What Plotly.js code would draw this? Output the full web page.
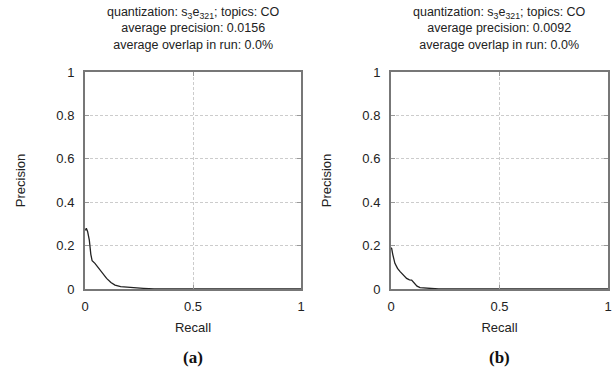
<!DOCTYPE html>
<html>
<head>
<meta charset="utf-8">
<script src="https://cdn.plot.ly/plotly-3.0.1.min.js"></script>
<style>html,body{margin:0;padding:0;background:#fff;}#chart{width:614px;height:389px;}</style>
</head>
<body>
<div id="chart"></div>
<script>
// Panel (a) data
const recallA    = [0.002, 0.006, 0.012, 0.02, 0.027, 0.033, 0.046, 0.069, 0.085, 0.1, 0.12, 0.139, 0.165, 0.193, 0.23, 0.27, 0.32, 0.5, 1];
const precisionA = [0.27, 0.28, 0.265, 0.225, 0.16, 0.13, 0.118, 0.088, 0.068, 0.049, 0.03, 0.018, 0.011, 0.008, 0.005, 0.003, 0.0, 0.0, 0.0];
// Panel (b) data
const recallB    = [0, 0.003, 0.008, 0.018, 0.03, 0.042, 0.072, 0.085, 0.095, 0.11, 0.12, 0.134, 0.155, 0.18, 0.22, 0.5, 1];
const precisionB = [0.19, 0.187, 0.16, 0.118, 0.095, 0.08, 0.049, 0.042, 0.041, 0.023, 0.013, 0.006, 0.004, 0.002, 0.0, 0.0, 0.0];

const titleLines = [
  ["quantization: s<sub>3</sub>e<sub>321</sub>; topics: CO", "average precision: 0.0156", "average overlap in run: 0.0%"],
  ["quantization: s<sub>3</sub>e<sub>321</sub>; topics: CO", "average precision: 0.0092", "average overlap in run: 0.0%"]
];
const captions = ["(a)", "(b)"];
const xTicks = [0, 0.5, 1];
const yTicks = [0, 0.2, 0.4, 0.6, 0.8, 1];
const xLabel = "Recall";
const yLabel = "Precision";

const W = 614, H = 389;
const yDom = [1 - 289/H, 1 - 72/H];
const xDomA = [85/W, 301/W];
const xDomB = [391/W, 608/W];

const lineStyle = {color: '#222', width: 1.3};
const traces = [
  {x: recallA, y: precisionA, type: 'scatter', mode: 'lines', line: lineStyle, xaxis: 'x', yaxis: 'y', hoverinfo: 'skip'},
  {x: recallB, y: precisionB, type: 'scatter', mode: 'lines', line: lineStyle, xaxis: 'x2', yaxis: 'y2', hoverinfo: 'skip'}
];

const tickFont = {family: 'Liberation Sans, Arial, sans-serif', size: 13, color: '#222'};
function xAxis(dom, anchor) {
  return {
    domain: dom, anchor: anchor, range: [0, 1], tickvals: xTicks, ticktext: xTicks.map(String),
    showline: true, mirror: 'ticks', linecolor: '#777', linewidth: 2,
    ticks: 'inside', ticklen: 4, tickcolor: '#999', tickwidth: 1,
    showgrid: true, gridcolor: '#ccc', griddash: '3px,2px', gridwidth: 1,
    zeroline: false, tickfont: tickFont, ticklabelstandoff: 4,
    title: {text: xLabel, font: tickFont, standoff: 10}
  };
}
function yAxis(dom, anchor) {
  return {
    domain: dom, anchor: anchor, range: [0, 1], tickvals: yTicks, ticktext: yTicks.map(String),
    showline: true, mirror: 'ticks', linecolor: '#777', linewidth: 2,
    ticks: 'inside', ticklen: 4, tickcolor: '#999', tickwidth: 1,
    showgrid: true, gridcolor: '#ccc', griddash: '3px,2px', gridwidth: 1,
    zeroline: false, tickfont: tickFont, ticklabelstandoff: 6,
    title: {text: yLabel, font: tickFont, standoff: 28}
  };
}

const annFont = {family: 'Liberation Sans, Arial, sans-serif', size: 12.5, color: '#222'};
const annotations = [];
[xDomA, xDomB].forEach((d, i) => {
  const cx = (d[0] + d[1]) / 2;
  annotations.push({
    xref: 'paper', yref: 'paper', x: cx, y: 1 - 3/H, xanchor: 'center', yanchor: 'top',
    text: titleLines[i].join('<br>'), showarrow: false, font: annFont, align: 'center'
  });
  annotations.push({
    xref: 'paper', yref: 'paper', x: cx, y: 1 - 357/H, xanchor: 'center', yanchor: 'middle',
    text: '<b>' + captions[i] + '</b>', showarrow: false,
    font: {family: 'Liberation Serif, Times New Roman, serif', size: 17, color: '#111'}
  });
});

const layout = {
  width: W, height: H, margin: {l: 0, r: 0, t: 0, b: 0},
  paper_bgcolor: '#fff', plot_bgcolor: '#fff', showlegend: false,
  xaxis: xAxis(xDomA, 'y'), yaxis: yAxis(yDom, 'x'),
  xaxis2: xAxis(xDomB, 'y2'), yaxis2: yAxis(yDom, 'x2'),
  annotations: annotations
};

Plotly.newPlot('chart', traces, layout, {staticPlot: true, displayModeBar: false});
</script>
</body>
</html>
